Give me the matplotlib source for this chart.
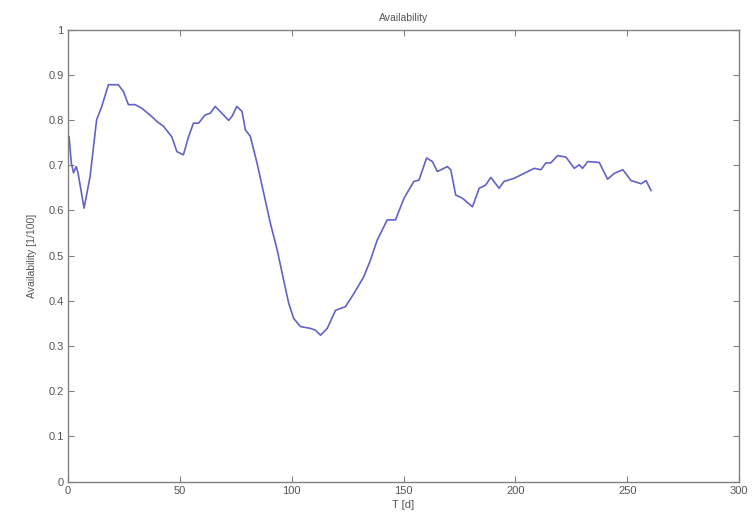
import matplotlib
matplotlib.use("Agg")
import matplotlib.pyplot as plt

T = [0.5, 1.5, 2.5, 3.7, 4.5, 7.2, 9.9, 12.8, 15.1, 18.1, 22.5, 24.8, 27.0, 30.0,
     33.0, 36.7, 39.7, 42.7, 46.4, 48.7, 51.6, 53.9, 56.1, 58.4, 61.3, 63.6, 65.8,
     68.8, 71.8, 73.3, 75.5, 77.8, 79.3, 81.5, 84.5, 87.5, 90.5, 93.5, 96.4, 98.7,
     100.9, 103.9, 108.4, 110.6, 112.9, 115.9, 119.6, 124.0, 127.8, 132.2, 135.2,
     138.2, 142.7, 146.4, 150.2, 154.6, 156.9, 160.3, 162.9, 165.1, 169.6, 171.1,
     173.3, 176.3, 180.8, 183.8, 186.7, 189.0, 192.7, 194.9, 199.4, 203.9, 208.4,
     211.4, 213.6, 215.8, 218.8, 222.6, 226.3, 228.5, 230.0, 232.3, 237.5, 241.2,
     244.2, 248.0, 251.7, 256.2, 258.4, 260.6]
availability = [0.763, 0.705, 0.683, 0.697, 0.683, 0.605, 0.675, 0.800, 0.830, 0.878,
                0.878, 0.863, 0.834, 0.834, 0.826, 0.811, 0.797, 0.786, 0.763, 0.730,
                0.723, 0.763, 0.793, 0.793, 0.811, 0.815, 0.830, 0.815, 0.799, 0.808,
                0.830, 0.819, 0.778, 0.764, 0.705, 0.638, 0.571, 0.513, 0.446, 0.394,
                0.361, 0.343, 0.339, 0.335, 0.324, 0.339, 0.379, 0.387, 0.416, 0.453,
                0.490, 0.534, 0.579, 0.579, 0.627, 0.664, 0.667, 0.716, 0.708, 0.686,
                0.697, 0.690, 0.634, 0.627, 0.608, 0.649, 0.656, 0.673, 0.649, 0.664,
                0.671, 0.682, 0.693, 0.690, 0.705, 0.705, 0.721, 0.718, 0.693, 0.701,
                0.693, 0.708, 0.706, 0.669, 0.682, 0.690, 0.666, 0.659, 0.666, 0.644]

xticks = [0, 50, 100, 150, 200, 250, 300]
yticks = [0, 0.1, 0.2, 0.3, 0.4, 0.5, 0.6, 0.7, 0.8, 0.9, 1]
ytick_labels = ["0", "0.1", "0.2", "0.3", "0.4", "0.5", "0.6", "0.7", "0.8", "0.9", "1"]

plt.rcParams['font.family'] = ['Liberation Sans', 'DejaVu Sans']
text_c = '#555555'
axis_c = '#808080'

fig = plt.figure(figsize=(7.55, 5.19), dpi=100)
ax = fig.add_axes([0.090, 0.072, 0.889, 0.871])
ax.plot(T, availability, color='#6262c8', linewidth=1.2)

ax.set_xlim(0, 300)
ax.set_ylim(0, 1)
ax.set_xticks(xticks)
ax.set_xticklabels([str(v) for v in xticks])
ax.set_yticks(yticks)
ax.set_yticklabels(ytick_labels)
ax.tick_params(direction='in', top=True, right=True, length=4, width=0.8,
               colors=axis_c, labelcolor=text_c, labelsize=8, pad=3)
for s in ax.spines.values():
    s.set_color(axis_c)
    s.set_linewidth(1.0)

ax.set_title('Availability', fontsize=7.5, color=text_c, pad=6)
ax.set_xlabel('T [d]', fontsize=8, color=text_c, labelpad=3)
ax.set_ylabel('Availability [1/100]', fontsize=7.5, color=text_c, labelpad=8)

fig.savefig('out.png', dpi=100)
